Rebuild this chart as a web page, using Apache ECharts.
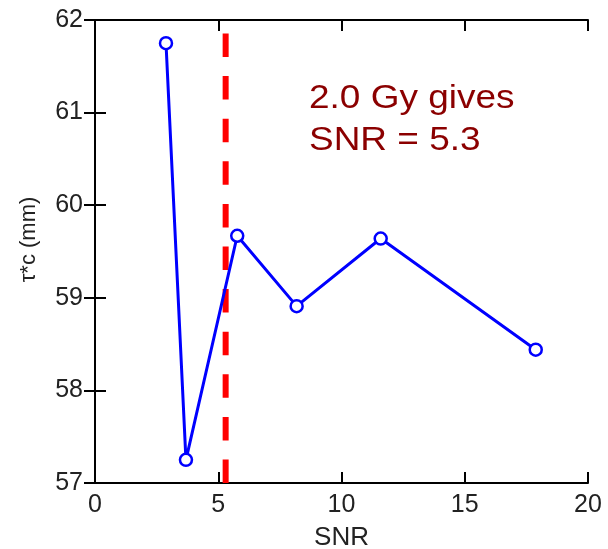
<!DOCTYPE html>
<html>
<head>
<meta charset="utf-8">
<script src="https://cdn.jsdelivr.net/npm/echarts@6/dist/echarts.min.js"></script>
<style>html,body{margin:0;padding:0;background:#fff}#c{width:608px;height:549px}</style>
</head>
<body>
<div id="c"></div>
<script>
// Data
const snr = [2.88, 3.69, 5.77, 8.18, 11.59, 17.88];
const tauC = [61.75, 57.25, 59.67, 58.91, 59.64, 58.44];
const thresholdSNR = 5.3;
const yRange = [57, 62];
const xRange = [0, 20];
const annotationLines = ['2.0 Gy gives', 'SNR = 5.3'];

const F = 'Liberation Sans, Arial, sans-serif';
const chart = echarts.init(document.getElementById('c'), null, {renderer: 'canvas'});

const axisCommon = {
  axisLine: {show: true, lineStyle: {color: '#000', width: 2}},
  axisTick: {show: true, inside: true, length: 11, lineStyle: {color: '#000', width: 2}},
  splitLine: {show: false}
};

chart.setOption({
  animation: false,
  grid: {left: 95, right: 20, top: 20, bottom: 66, containLabel: false, outerBoundsMode: 'none'},
  xAxis: [
    Object.assign({type: 'value', min: xRange[0], max: xRange[1], interval: 5, position: 'bottom',
      name: 'SNR', nameLocation: 'middle', nameGap: 42,
      nameTextStyle: {fontFamily: F, fontSize: 26, color: '#222'},
      axisLabel: {fontFamily: F, fontSize: 25, color: '#222', margin: 10}}, axisCommon),
    Object.assign({type: 'value', min: xRange[0], max: xRange[1], interval: 5, position: 'top',
      axisLabel: {show: false}}, axisCommon)
  ],
  yAxis: [
    Object.assign({type: 'value', min: yRange[0], max: yRange[1], interval: 1, position: 'left',
      name: 'τ*c (mm)', nameLocation: 'middle', nameGap: 55, nameRotate: 90,
      nameTextStyle: {fontFamily: F, fontSize: 22, color: '#222', padding: [0, 0, 0, 24]},
      axisLabel: {fontFamily: F, fontSize: 25, color: '#222', margin: 12}}, axisCommon),
    Object.assign({type: 'value', min: yRange[0], max: yRange[1], interval: 1, position: 'right',
      axisLabel: {show: false}}, axisCommon)
  ],
  series: [
    {
      type: 'line',
      data: [[thresholdSNR, yRange[0]], [thresholdSNR, yRange[1]]],
      symbol: 'none',
      lineStyle: {color: '#ff0000', width: 6, type: [23.5, 19.1]},
      z: 2
    },
    {
      type: 'line',
      data: snr.map((x, i) => [x, tauC[i]]),
      symbol: 'circle', symbolSize: 12,
      itemStyle: {color: '#fff', borderColor: '#0000ff', borderWidth: 2.5},
      lineStyle: {color: '#0000ff', width: 3},
      z: 3
    }
  ],
  graphic: annotationLines.map((t, i) => ({
    type: 'text', x: 309, y: 82 + i * 42, scaleX: 1.12,
    style: {text: t, x: 0, y: 0, fontFamily: F, fontSize: 33, fill: '#8b0000', align: 'left', verticalAlign: 'top'}
  }))
});
</script>
</body>
</html>
